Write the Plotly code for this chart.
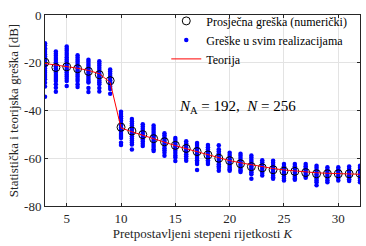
import plotly.graph_objects as go

K = list(range(3, 33))

avg_err = [-19.8, -22.0, -21.7, -22.5, -23.6, -25.0, -27.5, -47.0, -48.6, -50.1,
           -51.8, -53.1, -54.6, -55.9, -57.2, -58.6, -60.0, -61.0, -62.3, -63.5,
           -64.0, -64.8, -65.4, -65.5, -66.0, -66.5, -66.5, -66.5, -66.5, -66.4]

theory = [-20.3, -20.9, -21.5, -22.3, -23.2, -24.6, -28.2, -47.3, -48.9, -50.4,
          -51.9, -53.3, -54.7, -56.0, -57.3, -58.6, -59.8, -61.0, -61.9, -62.8,
          -63.6, -64.3, -64.9, -65.4, -65.8, -66.1, -66.3, -66.5, -66.6, -66.7]

realizations = {
    3: [-11.8, -12.7, -13.9, -14.6, -15.5, -16.4, -17.3, -18.1, -19.0, -19.8, -20.7,
        -21.5, -22.4, -23.3, -24.2, -25.1, -26.0, -26.9, -28.4, -29.9, -34.2],
    4: [-15.3, -16.2, -17.1, -18.0, -18.9, -19.8, -20.6, -21.5, -22.4, -23.3, -24.2,
        -25.1, -26.0, -26.8, -27.6, -29.0, -30.5, -32.1],
    5: [-13.2, -14.1, -15.0, -15.9, -16.8, -17.7, -18.6, -19.5, -20.4, -21.3, -22.2,
        -23.1, -24.0, -24.9, -25.8, -26.7, -27.6, -29.7],
    6: [-16.9, -17.8, -18.7, -19.6, -20.5, -21.4, -22.3, -23.2, -24.1, -25.0, -25.9,
        -26.8, -27.6, -29.0, -30.2],
    7: [-18.7, -19.6, -20.5, -21.4, -22.3, -23.2, -24.1, -25.0, -25.9, -26.8, -27.6,
        -28.3, -30.6, -32.2],
    8: [-19.4, -20.3, -21.2, -22.1, -23.0, -23.9, -24.8, -25.7, -26.6, -27.4, -28.2,
        -29.0, -30.6, -32.0],
    9: [-22.8, -23.7, -24.6, -25.5, -26.4, -27.3, -28.2, -29.1, -30.0, -31.0, -33.0],
    10: [-40.5, -41.5, -42.4, -43.4, -44.3, -45.3, -46.2, -47.1, -48.0, -48.9, -49.8,
         -50.7, -51.5, -53.5, -54.5],
    11: [-43.6, -44.5, -45.4, -46.3, -47.2, -48.1, -49.0, -49.9, -50.8, -51.7, -52.6,
         -53.4, -54.2, -56.3],
    12: [-45.8, -46.7, -47.6, -48.5, -49.4, -50.3, -51.2, -52.1, -53.0, -53.9, -54.9],
    13: [-46.3, -47.2, -48.1, -49.0, -49.9, -50.8, -51.7, -52.6, -53.5, -54.4, -55.3,
         -56.2, -57.0],
    14: [-49.5, -50.4, -51.3, -52.2, -53.1, -54.0, -54.9, -55.8, -56.7, -57.7, -59.0],
    15: [-51.5, -52.4, -53.3, -54.2, -55.1, -56.0, -56.9, -57.8, -58.8, -59.7, -61.2],
    16: [-52.9, -53.8, -54.7, -55.6, -56.5, -57.4, -58.3, -59.2, -60.1, -61.0],
    17: [-53.6, -54.5, -55.4, -56.3, -57.2, -58.1, -59.0, -59.9, -60.8, -61.6, -62.4,
         -64.9],
    18: [-54.5, -55.4, -56.3, -57.2, -58.1, -59.0, -59.9, -60.8, -61.6, -62.4],
    19: [-54.6, -56.2, -57.1, -58.0, -58.9, -59.8, -60.7, -61.6, -62.5, -63.3, -64.1,
         -65.2],
    20: [-57.7, -58.6, -59.5, -60.4, -61.3, -62.2, -63.1, -64.0, -64.6, -65.2],
    21: [-58.1, -59.0, -59.9, -60.8, -61.7, -62.6, -63.5, -64.4, -65.1, -65.8],
    22: [-58.8, -59.7, -60.6, -61.5, -62.4, -63.3, -64.2, -65.1, -65.9, -66.7, -68.6],
    23: [-60.8, -61.7, -62.6, -63.5, -64.4, -65.3, -66.2, -67.2],
    24: [-61.0, -61.9, -62.8, -63.7, -64.6, -65.5, -66.4, -67.3, -68.0, -68.6],
    25: [-62.4, -63.3, -64.2, -65.1, -66.0, -66.9, -67.8, -68.6, -69.3],
    26: [-62.4, -63.3, -64.2, -65.1, -66.0, -66.9, -67.8, -68.5, -69.0],
    27: [-62.4, -63.3, -64.2, -65.1, -66.0, -66.9, -67.6, -68.2],
    28: [-63.1, -64.0, -64.9, -65.8, -66.7, -67.6, -68.5, -69.3, -70.0, -71.3],
    29: [-63.8, -64.7, -65.6, -66.5, -67.4, -68.3, -69.2, -70.0],
    30: [-63.8, -64.7, -65.6, -66.5, -67.4, -68.3, -69.3],
    31: [-63.5, -64.4, -65.3, -66.2, -67.1, -68.0, -68.8, -69.5],
    32: [-63.1, -64.0, -64.9, -65.8, -66.7, -67.6, -68.5, -69.3, -70.0],
}

x_ticks = [5, 10, 15, 20, 25, 30]
y_ticks = [0, -20, -40, -60, -80]
y_tick_text = ["0", "-20", "-40", "-60", "-80"]

FONT = "Liberation Serif"
AX = "#262626"

rx, ry = [], []
for k, vals in realizations.items():
    rx.extend([k] * len(vals))
    ry.extend(vals)

fig = go.Figure()
fig.add_trace(go.Scatter(
    x=rx, y=ry, mode="markers", name="Greške u svim realizacijama",
    marker=dict(symbol="circle", size=4.5, color="#0000FF", line=dict(width=0)),
    legendrank=2))
fig.add_trace(go.Scatter(
    x=K, y=avg_err, mode="markers", name="Prosječna greška (numerički)",
    marker=dict(symbol="circle-open", size=8, color="black", line=dict(width=1)),
    legendrank=1))
fig.add_trace(go.Scatter(
    x=K, y=theory, mode="lines", name="Teorija",
    line=dict(color="#FF0000", width=1), legendrank=3))

fig.add_annotation(
    x=0.418, y=-38.5, xref="paper", yref="y", xanchor="left", yanchor="middle",
    text="<i>N</i><sub>A</sub> = 192,  <i>N</i> = 256", showarrow=False,
    font=dict(family=FONT, size=15, color="black"))

axis_common = dict(
    showline=True, linecolor=AX, linewidth=1, mirror="allticks",
    ticks="inside", ticklen=3, tickcolor=AX, tickwidth=1,
    showgrid=True, gridcolor="#e3e3e3", gridwidth=1, zeroline=False,
    tickfont=dict(family=FONT, size=13, color=AX), automargin=False)

fig.update_xaxes(range=[3, 32], tickvals=x_ticks,
                 title=dict(text="Pretpostavljeni stepeni rijetkosti <i>K</i>",
                            font=dict(family=FONT, size=13, color=AX), standoff=2),
                 **axis_common)
fig.update_yaxes(range=[-80, 0], tickvals=y_ticks, ticktext=y_tick_text,
                 title=dict(text="Statistička i teorijska greška [dB]",
                            font=dict(family=FONT, size=13, color=AX), standoff=2),
                 **axis_common)

fig.update_layout(
    width=366, height=246,
    margin=dict(l=45, r=6, t=11, b=40),
    plot_bgcolor="white", paper_bgcolor="white",
    showlegend=True,
    legend=dict(x=0.385, y=1.045, xanchor="left", yanchor="top",
                bgcolor="rgba(0,0,0,0)", borderwidth=0,
                font=dict(family=FONT, size=12, color="black"),
                tracegroupgap=0, itemwidth=30),
)

fig.write_html("out.html",
               config={"displayModeBar": False},
               post_script="document.body.style.margin='0px';")
